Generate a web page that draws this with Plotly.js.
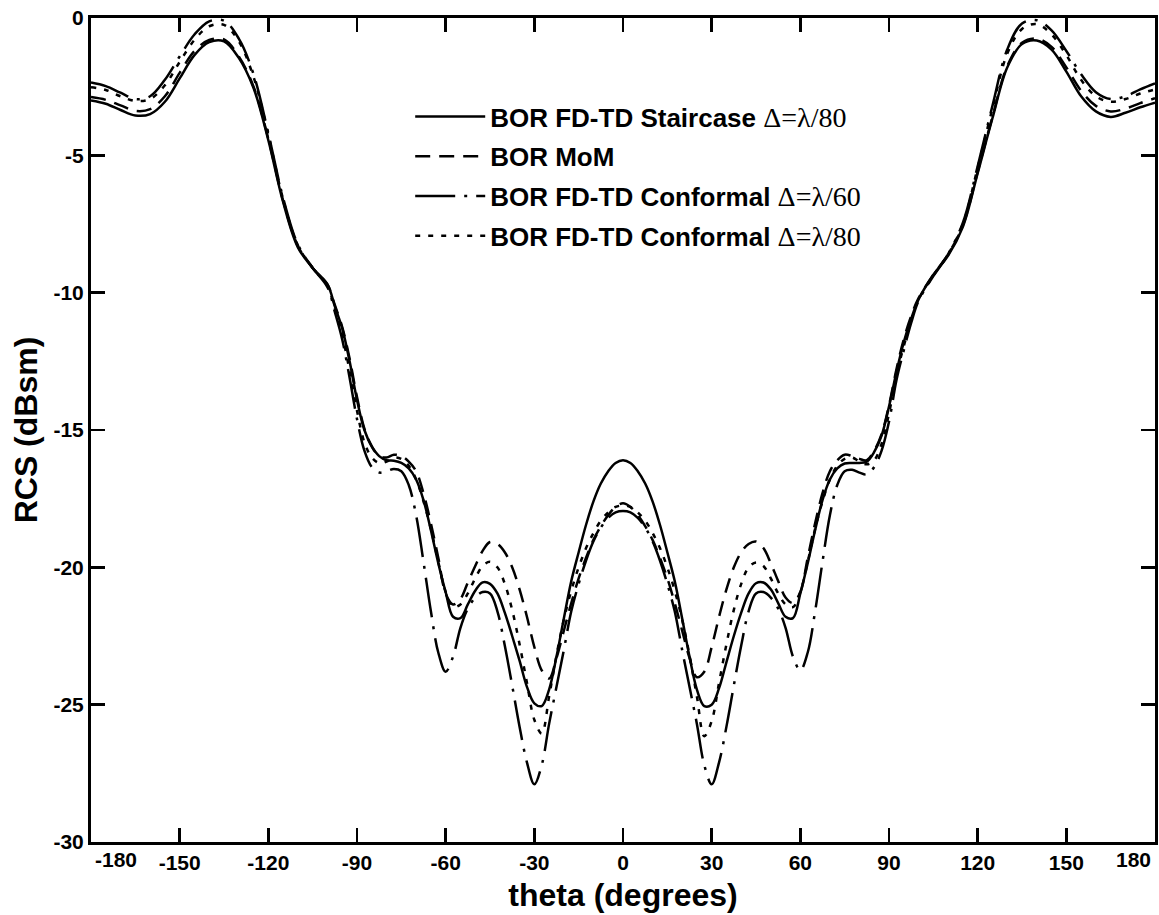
<!DOCTYPE html>
<html>
<head>
<meta charset="utf-8">
<script src="https://cdn.plot.ly/plotly-3.0.1.min.js"></script>
<style>
  html, body { margin: 0; padding: 0; background: #fff; }
  #chart { width: 1159px; height: 915px; }
</style>
</head>
<body>
<div id="chart"></div>
<script>
// theta (degrees)
const theta = [
  -180,-175,-170,-165,-160,-155,-150,-145,-140,-135,-130,-125,-120,-115,-110,-105,-100,
  -97.5,-95,-92.5,-90,-87.5,-85,-82.5,-80,-77.5,-75,-72.5,-70,-67.5,-65,-62.5,-60,-57.5,-55,-52.5,-50,
  -47.5,-45,-42.5,-40,-37.5,-35,-32.5,-30,-27.5,-25,-22.5,-20,-17.5,-15,-12.5,-10,-7.5,-5,-2.5,0,
  2.5,5,7.5,10,12.5,15,17.5,20,22.5,25,27.5,30,32.5,35,37.5,40,42.5,45,47.5,50,
  52.5,55,57.5,60,62.5,65,67.5,70,72.5,75,77.5,80,82.5,85,87.5,90,92.5,95,97.5,
  100,105,110,115,120,125,130,135,140,145,150,155,160,165,170,175,180
];

// BOR FD-TD Staircase, Δ=λ/80 (solid)
const staircase80 = [
  -3.00,-3.12,-3.35,-3.55,-3.50,-3.05,-2.20,-1.35,-0.88,-0.85,-1.45,-2.55,-4.45,-6.70,-8.35,-9.10,-9.70,
  -10.5,-11.3,-12.5,-13.9,-15.0,-15.6,-15.95,-16.1,-16.12,-16.2,-16.4,-16.8,-17.55,-18.65,-19.85,-20.9,-21.8,-21.85,-21.35,-20.85,
  -20.55,-20.6,-20.95,-21.65,-22.5,-23.4,-24.35,-24.95,-25.05,-24.45,-23.25,-21.85,-20.5,-19.45,-18.45,-17.6,-16.95,-16.5,-16.2,-16.1,
  -16.2,-16.5,-16.95,-17.6,-18.45,-19.45,-20.5,-21.85,-23.25,-24.45,-25.05,-25.0,-24.4,-23.45,-22.5,-21.65,-20.95,-20.58,-20.55,-20.8,
  -21.3,-21.8,-21.85,-20.95,-19.85,-18.65,-17.55,-16.8,-16.4,-16.22,-16.2,-16.2,-16.15,-15.8,-15.2,-14.15,-12.9,-11.8,-10.95,
  -10.25,-9.35,-8.65,-7.60,-5.65,-3.65,-1.80,-0.95,-0.82,-1.15,-1.95,-2.85,-3.40,-3.60,-3.45,-3.25,-3.08
];

// BOR MoM (dashed)
const mom = [
  -2.88,-2.98,-3.18,-3.38,-3.32,-2.85,-2.00,-1.20,-0.80,-0.78,-1.40,-2.50,-4.40,-6.65,-8.30,-9.10,-9.70,
  -10.45,-11.25,-12.4,-13.8,-14.95,-15.6,-15.95,-16.0,-15.9,-15.95,-16.15,-16.5,-17.3,-18.4,-19.65,-20.95,-21.35,-21.15,-20.55,-19.95,
  -19.4,-19.08,-19.15,-19.45,-20.0,-20.8,-21.8,-22.9,-23.75,-24.05,-23.3,-22.3,-21.3,-20.4,-19.65,-19.0,-18.5,-18.1,-17.8,-17.67,
  -17.8,-18.1,-18.5,-19.0,-19.65,-20.4,-21.3,-22.3,-23.3,-24.0,-23.8,-22.9,-21.8,-20.8,-20.0,-19.45,-19.15,-19.06,-19.3,-19.85,
  -20.5,-21.1,-21.3,-20.9,-19.65,-18.4,-17.3,-16.5,-16.1,-15.9,-15.95,-16.05,-16.1,-15.75,-15.15,-14.1,-12.8,-11.7,-10.85,
  -10.2,-9.35,-8.6,-7.55,-5.6,-3.6,-1.75,-0.90,-0.75,-1.05,-1.80,-2.65,-3.20,-3.40,-3.30,-3.10,-2.92
];

// BOR FD-TD Conformal, Δ=λ/60 (dash-dot)
const conformal60 = [
  -2.35,-2.48,-2.72,-2.95,-2.85,-2.25,-1.40,-0.60,-0.12,-0.10,-0.75,-2.05,-4.20,-6.55,-8.25,-9.10,-9.80,
  -10.7,-11.7,-13.1,-14.6,-15.75,-16.35,-16.55,-16.5,-16.42,-16.5,-17.0,-18.1,-19.8,-21.6,-23.1,-23.8,-23.25,-22.2,-21.5,-21.1,
  -20.9,-20.95,-21.6,-22.85,-24.3,-25.8,-27.1,-27.9,-27.2,-25.7,-24.35,-23.0,-21.6,-20.6,-19.75,-19.05,-18.55,-18.2,-18.0,-17.95,
  -18.0,-18.2,-18.55,-19.05,-19.75,-20.6,-21.6,-23.0,-24.35,-25.7,-27.2,-27.9,-27.1,-25.8,-24.3,-22.85,-21.6,-20.95,-20.9,-21.1,
  -21.5,-22.2,-23.25,-23.75,-23.1,-21.6,-19.8,-18.1,-17.0,-16.5,-16.45,-16.55,-16.62,-16.35,-15.75,-14.7,-13.2,-12.1,-11.1,
  -10.3,-9.4,-8.6,-7.45,-5.4,-3.2,-1.15,-0.20,-0.08,-0.45,-1.20,-2.05,-2.70,-2.95,-2.85,-2.60,-2.38
];

// BOR FD-TD Conformal, Δ=λ/80 (dotted)
const conformal80 = [
  -2.52,-2.62,-2.85,-3.02,-2.95,-2.45,-1.60,-0.80,-0.30,-0.25,-0.85,-2.15,-4.25,-6.60,-8.28,-9.10,-9.75,
  -10.6,-11.55,-12.85,-14.3,-15.45,-16.0,-16.2,-16.15,-16.0,-16.05,-16.3,-16.8,-17.6,-18.6,-19.8,-20.9,-21.45,-21.35,-20.95,-20.4,
  -19.95,-19.8,-20.0,-20.6,-21.55,-22.8,-24.2,-25.55,-26.05,-24.7,-23.2,-21.9,-20.85,-20.0,-19.3,-18.75,-18.3,-18.0,-17.8,-17.75,
  -17.8,-18.0,-18.3,-18.75,-19.3,-20.0,-20.85,-21.9,-23.2,-24.7,-26.15,-25.6,-24.2,-22.8,-21.55,-20.6,-20.0,-19.82,-19.95,-20.4,
  -20.95,-21.35,-21.45,-20.9,-19.8,-18.6,-17.6,-16.8,-16.3,-16.05,-16.0,-16.15,-16.25,-16.1,-15.5,-14.4,-13.0,-11.95,-11.0,
  -10.25,-9.38,-8.6,-7.5,-5.45,-3.3,-1.3,-0.4,-0.22,-0.6,-1.35,-2.25,-2.85,-3.05,-2.95,-2.75,-2.60
];

// tick labels
const xTickVals = [-180,-150,-120,-90,-60,-30,0,30,60,90,120,150,180];
const xTickText = ["","-150","-120","-90","-60","-30","0","30","60","90","120","150",""];
const yTickVals = [0,-5,-10,-15,-20,-25,-30];
const yTickText = ["0","-5","-10","-15","-20","-25","-30"];

const serif = (s) => '<span style="font-family:\'Liberation Serif\',\'Times New Roman\',serif;font-weight:normal;font-size:28px">' + s + '</span>';

const series = [
  {name: 'BOR FD-TD Staircase ' + serif('Δ=λ/80'), y: staircase80, dash: 'solid', g: 'a'},
  {name: 'BOR MoM', y: mom, dash: '15px,9px', g: 'b'},
  {name: 'BOR FD-TD Conformal ' + serif('Δ=λ/60'), y: conformal60, dash: '40px,9px,3px,9px', g: 'c'},
  {name: 'BOR FD-TD Conformal ' + serif('Δ=λ/80'), y: conformal80, dash: '5px,8px', g: 'd'}
];

const traces = series.map(s => ({
  type: 'scatter',
  mode: 'lines',
  x: theta,
  y: s.y,
  name: s.name,
  legendgroup: s.g,
  line: {color: '#000', width: 2.5, dash: s.dash, shape: 'spline', smoothing: 1}
}));

const W = 1159, H = 915;
const ML = 91, MR = 4, MT = 18, MB = 73;

const tickFont = {family: 'Liberation Sans, Arial, sans-serif', size: 21, color: '#000', weight: 'bold'};
const titleFont = {family: 'Liberation Sans, Arial, sans-serif', size: 32, color: '#000', weight: 'bold'};

const layout = {
  width: W, height: H,
  margin: {l: ML, r: MR, t: MT, b: MB},
  paper_bgcolor: '#fff', plot_bgcolor: '#fff',
  showlegend: true,
  legend: {
    x: 0.300, y: 0.909, xanchor: 'left', yanchor: 'top',
    bgcolor: 'rgba(0,0,0,0)', borderwidth: 0,
    font: {family: 'Liberation Sans, Arial, sans-serif', size: 26, color: '#000', weight: 'bold'},
    itemwidth: 70, traceorder: 'grouped', tracegroupgap: 3
  },
  xaxis: {
    range: [-180, 180], tickmode: 'array', tickvals: xTickVals, ticktext: xTickText,
    ticks: 'inside', ticklen: 14, tickwidth: 2.5, tickcolor: '#000',
    showline: true, linewidth: 3, linecolor: '#000', mirror: 'ticks',
    showgrid: false, zeroline: false, tickfont: tickFont,
    title: {text: 'theta (degrees)', font: titleFont, standoff: 11}
  },
  yaxis: {
    range: [-30, 0], tickmode: 'array', tickvals: yTickVals, ticktext: yTickText,
    ticks: 'inside', ticklen: 14, tickwidth: 2.5, tickcolor: '#000',
    showline: true, linewidth: 3, linecolor: '#000', mirror: 'ticks',
    showgrid: false, zeroline: false, tickfont: tickFont,
    title: {text: 'RCS (dBsm)', font: titleFont, standoff: 7}
  },
  annotations: [
    {xref: 'x', yref: 'paper', x: -180, y: -0.021, xanchor: 'left', yanchor: 'middle', xshift: 2, showarrow: false,
     text: '-180', font: tickFont},
    {xref: 'x', yref: 'paper', x: 180, y: -0.021, xanchor: 'right', yanchor: 'middle', xshift: -2, showarrow: false,
     text: '180', font: tickFont}
  ]
};

Plotly.newPlot('chart', traces, layout, {displayModeBar: false, staticPlot: true});
</script>
</body>
</html>
